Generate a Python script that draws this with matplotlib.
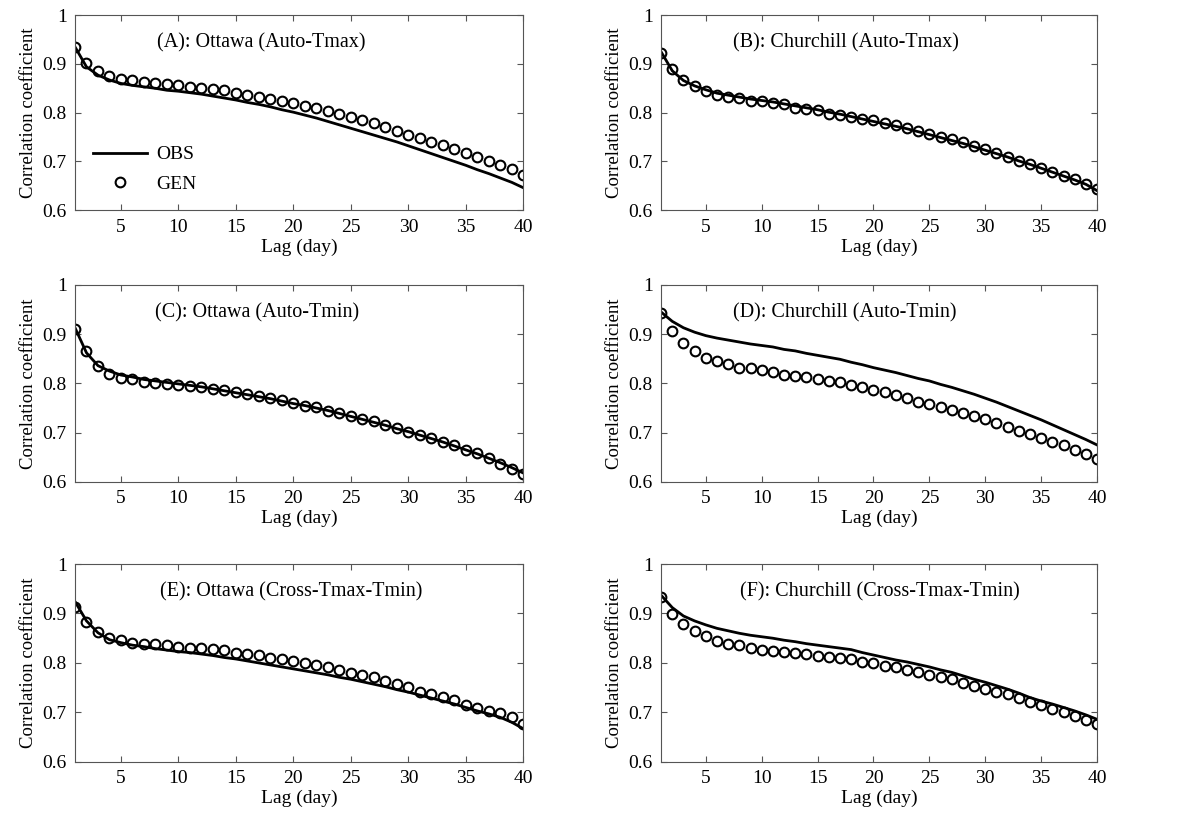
import numpy as np
import matplotlib
matplotlib.use("Agg")
import matplotlib.pyplot as plt

plt.rcParams['font.family'] = ['Liberation Serif', 'DejaVu Serif']

lags = np.arange(1, 41)

# (A) Ottawa Auto-Tmax
obs_a = [0.935, 0.894, 0.877, 0.867, 0.860, 0.856, 0.853, 0.850, 0.846, 0.844,
         0.841, 0.838, 0.834, 0.830, 0.826, 0.821, 0.817, 0.812, 0.806, 0.801,
         0.795, 0.789, 0.782, 0.775, 0.768, 0.761, 0.754, 0.747, 0.740, 0.732,
         0.724, 0.716, 0.708, 0.700, 0.692, 0.683, 0.675, 0.666, 0.657, 0.646]
gen_a = [0.935, 0.902, 0.885, 0.875, 0.870, 0.867, 0.863, 0.860, 0.858, 0.856,
         0.853, 0.851, 0.849, 0.846, 0.841, 0.837, 0.832, 0.828, 0.824, 0.819,
         0.813, 0.809, 0.803, 0.797, 0.791, 0.786, 0.778, 0.771, 0.763, 0.755,
         0.748, 0.740, 0.733, 0.726, 0.718, 0.709, 0.701, 0.692, 0.684, 0.672]

# (B) Churchill Auto-Tmax
obs_b = [0.925, 0.886, 0.866, 0.855, 0.847, 0.840, 0.836, 0.832, 0.828, 0.825,
         0.822, 0.818, 0.814, 0.810, 0.806, 0.801, 0.797, 0.792, 0.787, 0.782,
         0.777, 0.772, 0.767, 0.761, 0.755, 0.749, 0.743, 0.737, 0.730, 0.723,
         0.716, 0.709, 0.701, 0.694, 0.686, 0.678, 0.670, 0.662, 0.653, 0.640]
gen_b = [0.923, 0.889, 0.868, 0.854, 0.845, 0.837, 0.833, 0.830, 0.824, 0.823,
         0.819, 0.817, 0.809, 0.807, 0.805, 0.798, 0.796, 0.791, 0.788, 0.784,
         0.779, 0.774, 0.768, 0.763, 0.757, 0.750, 0.745, 0.739, 0.732, 0.725,
         0.718, 0.710, 0.701, 0.694, 0.687, 0.678, 0.670, 0.663, 0.654, 0.643]

# (C) Ottawa Auto-Tmin
obs_c = [0.913, 0.862, 0.836, 0.825, 0.817, 0.813, 0.808, 0.805, 0.802, 0.799,
         0.796, 0.793, 0.789, 0.785, 0.781, 0.777, 0.773, 0.769, 0.764, 0.759,
         0.755, 0.750, 0.745, 0.739, 0.733, 0.727, 0.721, 0.715, 0.708, 0.702,
         0.695, 0.688, 0.681, 0.673, 0.665, 0.657, 0.648, 0.639, 0.629, 0.618]
gen_c = [0.911, 0.866, 0.836, 0.820, 0.811, 0.808, 0.802, 0.801, 0.799, 0.796,
         0.794, 0.792, 0.789, 0.786, 0.783, 0.779, 0.775, 0.770, 0.766, 0.760,
         0.755, 0.752, 0.745, 0.740, 0.734, 0.728, 0.723, 0.716, 0.709, 0.702,
         0.695, 0.689, 0.682, 0.674, 0.665, 0.658, 0.648, 0.637, 0.627, 0.617]

# (D) Churchill Auto-Tmin
obs_d = [0.945, 0.926, 0.913, 0.904, 0.897, 0.892, 0.888, 0.884, 0.880, 0.877,
         0.874, 0.869, 0.866, 0.861, 0.857, 0.853, 0.849, 0.843, 0.838, 0.832,
         0.827, 0.822, 0.816, 0.810, 0.805, 0.798, 0.792, 0.785, 0.778, 0.770,
         0.762, 0.753, 0.744, 0.735, 0.726, 0.716, 0.706, 0.696, 0.686, 0.675]
gen_d = [0.943, 0.906, 0.882, 0.866, 0.852, 0.845, 0.839, 0.832, 0.831, 0.827,
         0.824, 0.818, 0.816, 0.812, 0.808, 0.804, 0.802, 0.796, 0.792, 0.786,
         0.782, 0.776, 0.770, 0.763, 0.758, 0.753, 0.747, 0.740, 0.734, 0.728,
         0.720, 0.712, 0.704, 0.697, 0.689, 0.681, 0.674, 0.664, 0.657, 0.647]

# (E) Ottawa Cross-Tmax-Tmin
obs_e = [0.924, 0.885, 0.861, 0.847, 0.841, 0.836, 0.833, 0.829, 0.826, 0.823,
         0.821, 0.818, 0.815, 0.811, 0.808, 0.804, 0.800, 0.796, 0.792, 0.788,
         0.784, 0.780, 0.776, 0.771, 0.767, 0.762, 0.757, 0.752, 0.746, 0.741,
         0.735, 0.729, 0.723, 0.717, 0.710, 0.703, 0.697, 0.690, 0.680, 0.667]
gen_e = [0.914, 0.883, 0.863, 0.850, 0.846, 0.841, 0.838, 0.838, 0.836, 0.833,
         0.831, 0.831, 0.829, 0.827, 0.820, 0.818, 0.816, 0.811, 0.808, 0.804,
         0.799, 0.796, 0.791, 0.786, 0.780, 0.775, 0.771, 0.764, 0.757, 0.752,
         0.742, 0.738, 0.732, 0.725, 0.716, 0.709, 0.703, 0.698, 0.691, 0.677]

# (F) Churchill Cross-Tmax-Tmin
obs_f = [0.937, 0.912, 0.895, 0.885, 0.877, 0.870, 0.865, 0.860, 0.856, 0.853,
         0.850, 0.846, 0.843, 0.839, 0.836, 0.833, 0.830, 0.827, 0.821, 0.816,
         0.811, 0.806, 0.802, 0.797, 0.792, 0.786, 0.781, 0.774, 0.767, 0.761,
         0.754, 0.747, 0.739, 0.730, 0.723, 0.717, 0.710, 0.703, 0.695, 0.686]
gen_f = [0.933, 0.899, 0.879, 0.864, 0.854, 0.845, 0.838, 0.836, 0.831, 0.827,
         0.825, 0.823, 0.820, 0.818, 0.815, 0.813, 0.811, 0.808, 0.802, 0.800,
         0.794, 0.791, 0.785, 0.781, 0.775, 0.772, 0.767, 0.760, 0.754, 0.748,
         0.741, 0.737, 0.730, 0.721, 0.715, 0.707, 0.700, 0.693, 0.684, 0.676]

titles = ['(A): Ottawa (Auto-Tmax)', '(B): Churchill (Auto-Tmax)',
          '(C): Ottawa (Auto-Tmin)', '(D): Churchill (Auto-Tmin)',
          '(E): Ottawa (Cross-Tmax-Tmin)', '(F): Churchill (Cross-Tmax-Tmin)']
obs_all = [obs_a, obs_b, obs_c, obs_d, obs_e, obs_f]
gen_all = [gen_a, gen_b, gen_c, gen_d, gen_e, gen_f]

fig = plt.figure(figsize=(11.83, 8.21), dpi=100)

# axes rectangles (left, bottom, width, height) in figure fraction
lefts = [0.0634, 0.5588]
widths = [0.379, 0.3686]
bottoms = [0.744, 0.413, 0.072]
heights = [0.2375, 0.240, 0.241]
title_x = [0.416, 0.423, 0.406, 0.422, 0.482, 0.502]

for i in range(6):
    r, c = divmod(i, 2)
    ax = fig.add_axes([lefts[c], bottoms[r], widths[c], heights[r]])
    ax.plot(lags, obs_all[i], color='black', lw=2.0, label='OBS')
    ax.plot(lags, gen_all[i], linestyle='none', marker='o', ms=7,
            mfc='none', mec='black', mew=1.5, label='GEN')
    ax.set_xlim(1, 40)
    ax.set_ylim(0.6, 1.0)
    ax.set_xticks([5, 10, 15, 20, 25, 30, 35, 40])
    ax.set_yticks([0.6, 0.7, 0.8, 0.9, 1.0])
    ax.set_yticklabels(['0.6', '0.7', '0.8', '0.9', '1'])
    ax.tick_params(direction='in', top=True, right=True, length=4,
                   labelsize=14, color='#555555', pad=6)
    for s in ax.spines.values():
        s.set_color('#555555')
    ax.set_xlabel('Lag (day)', fontsize=14, labelpad=2)
    ax.set_ylabel('Correlation coefficient', fontsize=13.5, labelpad=4)
    ax.text(title_x[i], 0.86, titles[i], transform=ax.transAxes,
            ha='center', va='center', fontsize=14.5)
    if i == 0:
        ax.legend(loc='lower left', bbox_to_anchor=(0.0, 0.0), frameon=False,
                  fontsize=14, handlelength=2.8, handletextpad=0.5,
                  labelspacing=0.6)

fig.savefig('out.png', dpi=100)
